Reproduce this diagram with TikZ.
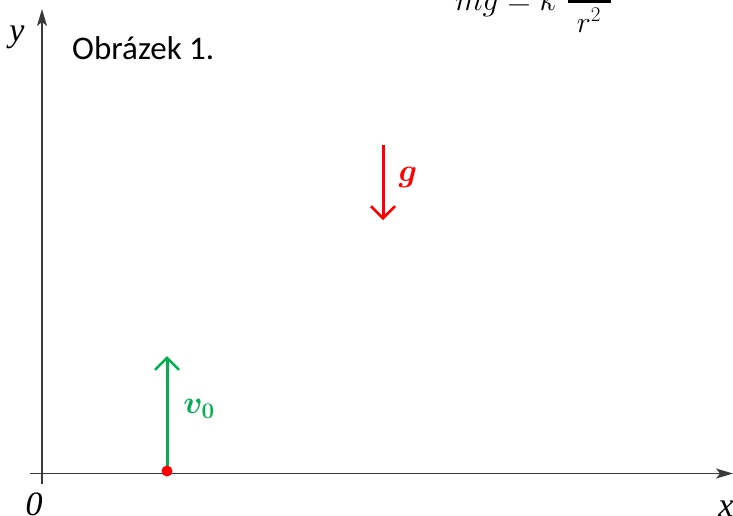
\RequirePackage{fix-cm}
\documentclass[tikz,border=0pt]{standalone}
\usepackage{fontspec}
\setmainfont{Liberation Serif}
\newfontfamily\calib{Carlito}
\usepackage{bm}
\usetikzlibrary{arrows.meta}
\definecolor{offgreen}{HTML}{00B050}
\definecolor{axisgray}{HTML}{3A3A3A}
\begin{document}
\begin{tikzpicture}[x=1pt,y=-1pt,
  axis/.style={draw=axisgray,line width=1.3pt,-{Stealth[length=17pt,width=10pt,inset=4pt]}},
  vec/.style={line width=3pt,-{Straight Barb[length=12pt,width=24pt,line width=2.6pt]}},
  lab/.style={font=\fontsize{34}{40}\selectfont\itshape,inner sep=0pt}
]
\useasboundingbox (0,0) rectangle (733,515);
\clip (0,0) rectangle (733,515);
% axes
\coordinate (xs) at (30,473.5);
\coordinate (xe) at (733,473.5);
\coordinate (ys) at (42,484);
\coordinate (ye) at (42,9);
\draw[axis] (xs) -- (xe);
\draw[axis] (ys) -- (ye);
\node[lab] (ylab) at (17,37.5) {y};
\node[lab] (olab) at (34,504.5) {0};
\node[lab] (xlab) at (726,509) {x};
% title
\node[font=\calib\fontsize{33}{38}\selectfont,anchor=west,inner sep=0pt] (title) at (72,48) {Obrázek 1.};
% formula (cut off at top)
\node[font=\fontsize{32}{36}\selectfont,anchor=base west,inner sep=0pt] (form) at (455,10) {$mg = k$};
\coordinate (fl) at (568,1);
\coordinate (fr) at (611,1);
\draw[line width=4pt] (fl) -- (fr);
\node[font=\fontsize{30}{34}\selectfont,inner sep=0pt] (r2) at (589,20) {$r^2$};
% gravity
\coordinate (gs) at (383,145);
\coordinate (ge) at (383,220);
\draw[vec,red] (gs) -- (ge);
\node[red,font=\fontsize{32}{36}\selectfont,inner sep=0pt] (glab) at (408,177) {$\bm{g}$};
% velocity
\coordinate (vs) at (167,471);
\coordinate (ve) at (167,356);
\draw[vec,offgreen] (vs) -- (ve);
\node[offgreen,font=\fontsize{32}{36}\selectfont,inner sep=0pt] (vlab) at (199,409) {$\bm{v_0}$};
\fill[red] (vs) circle (5.5pt);
\end{tikzpicture}
\end{document}
